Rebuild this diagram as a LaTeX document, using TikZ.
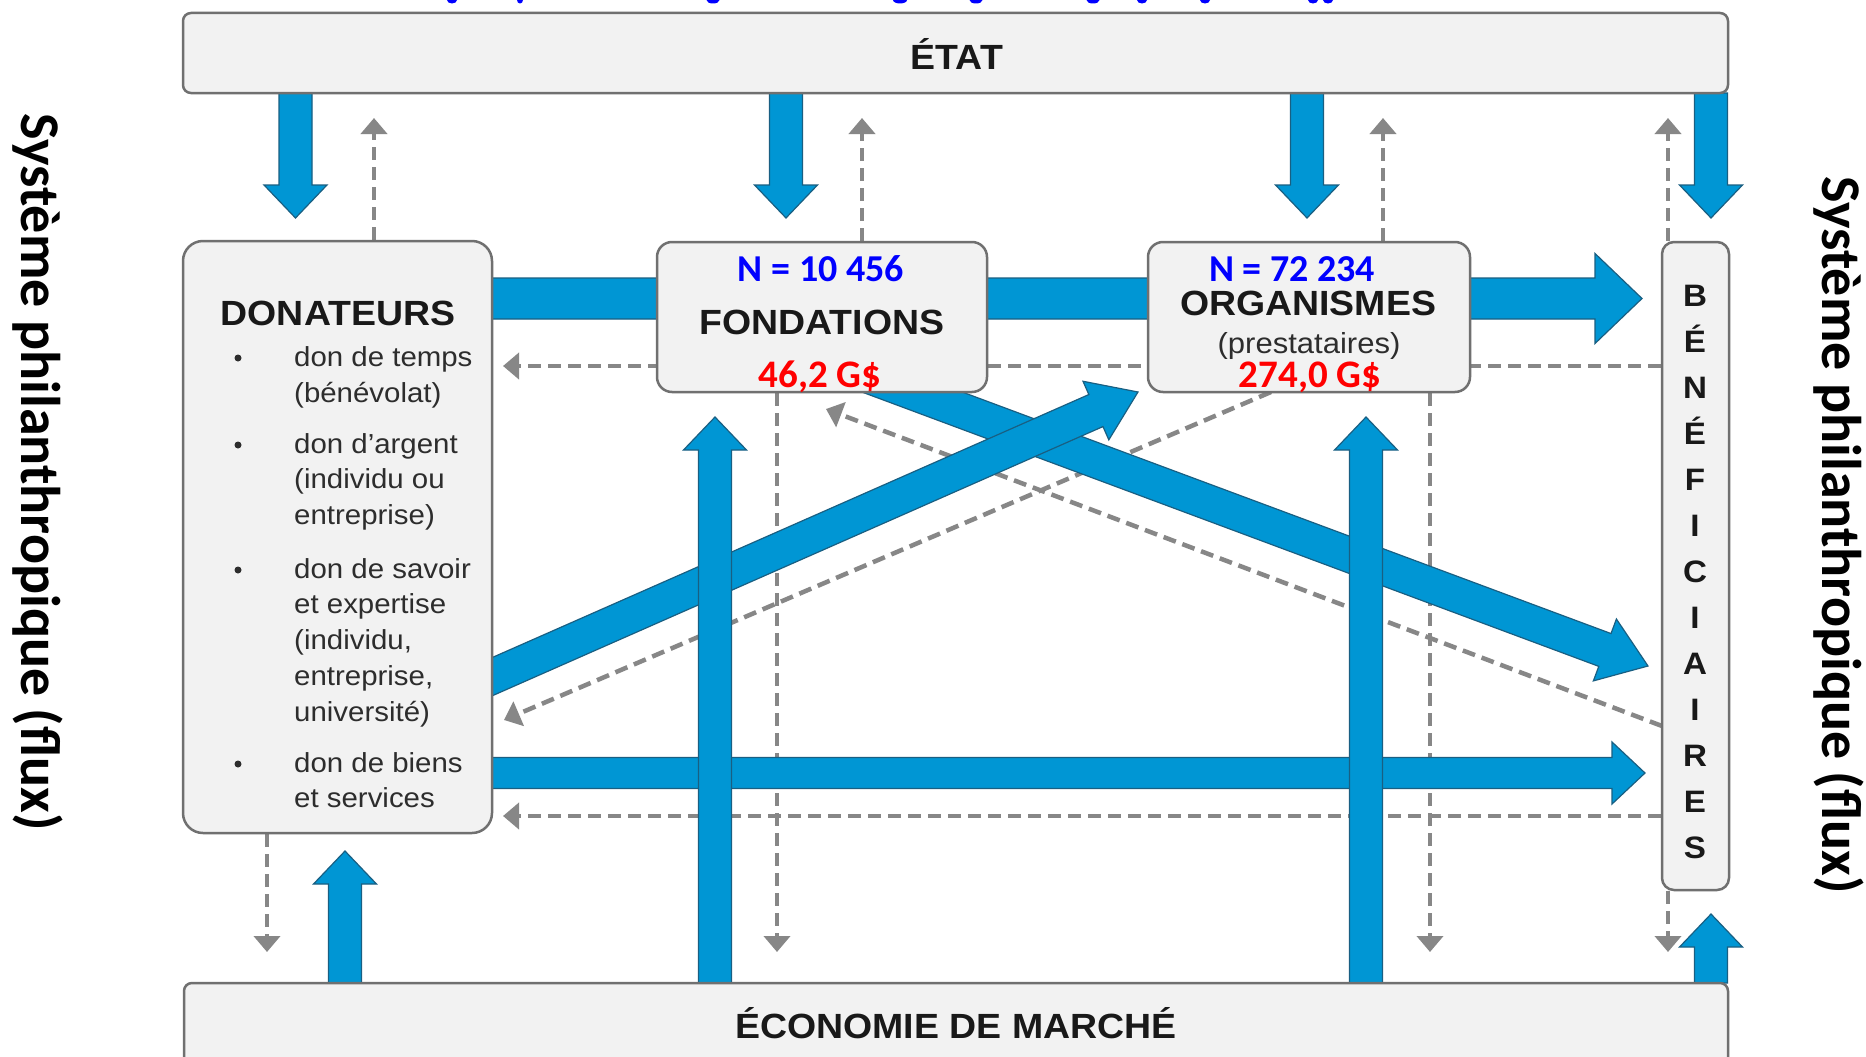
\documentclass[tikz,border=0pt]{standalone}
\usepackage{fontspec}
\setmainfont{Liberation Sans}
\newfontfamily\diagfont{Liberation Sans}[FakeStretch=1.07]
\newfontfamily\calfont{Carlito}
\usetikzlibrary{calc,arrows.meta}
\definecolor{flowblue}{RGB}{0,150,212}
\definecolor{flowedge}{RGB}{25,95,130}
\definecolor{boxfill}{RGB}{242,242,242}
\definecolor{boxedge}{RGB}{112,112,112}
\definecolor{dashgray}{RGB}{135,135,135}
\definecolor{itemgray}{RGB}{45,45,45}
\pgfdeclarelayer{dashlayer}
\pgfdeclarelayer{flowlayer}
\pgfdeclarelayer{flowtop}
\pgfsetlayers{dashlayer,flowlayer,flowtop,main}
\newcommand\blockarrow[5]{%
  \coordinate (ba-h) at ($(#2)!#5!(#1)$);
  \filldraw[flowarrow] ($(#1)!#3!90:(#2)$) -- ($(ba-h)!#3!90:(#2)$) -- ($(ba-h)!#4!90:(#2)$) -- (#2)
    -- ($(ba-h)!#4!-90:(#2)$) -- ($(ba-h)!#3!-90:(#2)$) -- ($(#1)!#3!-90:(#2)$) -- cycle;}
\tikzset{
  box/.style={draw=boxedge, fill=boxfill, line width=2.5pt, inner sep=0pt},
  title/.style={font=\diagfont\bfseries\fontsize{35}{40}\selectfont, anchor=base, inner sep=0pt, text=black!90},
  item/.style={font=\diagfont\fontsize{27.5}{34}\selectfont, anchor=base west, inner sep=0pt, text=itemgray},
  subt/.style={font=\diagfont\fontsize{29}{34}\selectfont, anchor=base, inner sep=0pt, text=itemgray},
  bul/.style={circle, fill=itemgray, inner sep=0pt, minimum size=7pt},
  numblue/.style={font=\calfont\bfseries\fontsize{38}{40}\selectfont, anchor=base, inner sep=0pt, text=blue},
  numred/.style={font=\calfont\bfseries\fontsize{39}{40}\selectfont, anchor=base, inner sep=0pt, text=red},
  benl/.style={font=\diagfont\bfseries\fontsize{31}{34}\selectfont, anchor=base, inner sep=0pt, text=black!90},
  side/.style={font=\calfont\bfseries\fontsize{56}{60}\selectfont, inner sep=0pt, rotate=-90},
  dasharrow/.style={draw=dashgray, line width=4.5pt, dash pattern=on 13pt off 7pt, -{Triangle[length=16pt,width=26pt]}},
  flowarrow/.style={fill=flowblue, draw=flowedge, line width=1.2pt, line join=miter},
  cutoff/.style={fill=blue},
}
\begin{document}
\begin{tikzpicture}[x=1pt,y=-1pt]
\useasboundingbox (0,0) rectangle (1866,1057);
\clip (0,0) rectangle (1866,1057);

% boxes
\node[box, rounded corners=8pt, minimum width=1545pt, minimum height=80pt] (etat) at (955.5,53) {};
\node[box, rounded corners=8pt, minimum width=1544pt, minimum height=100pt] (econ) at (956,1033) {};
\node[box, rounded corners=20pt, minimum width=309pt, minimum height=592pt] (don) at (337.5,537) {};
\node[box, rounded corners=15pt, minimum width=330pt, minimum height=150pt] (fon) at (822,317) {};
\node[box, rounded corners=15pt, minimum width=322pt, minimum height=150pt] (org) at (1309,317) {};
\node[box, rounded corners=12pt, minimum width=67pt, minimum height=648pt] (ben) at (1695.5,566) {};

% texts
\node[title] (etatT) at (957,70) {ÉTAT};
\node[title] (econT) at (956,1038) {ÉCONOMIE DE MARCHÉ};
\node[title] (donT) at (338,325) {DONATEURS};
\node[numblue] (fonN) at (821,281) {N = 10 456};
\node[title] (fonT) at (822,334) {FONDATIONS};
\node[numred] (fonV) at (820,387) {46,2 G\$};
\node[numblue] (orgN) at (1292,281) {N = 72 234};
\node[title] (orgT) at (1308,315) {ORGANISMES};
\node[subt] (orgS) at (1309,353) {(prestataires)};
\node[numred] (orgV) at (1310,387) {274,0 G\$};

\node[bul] (b1) at (238,358) {};
\node[item] (i1a) at (294,366) {don de temps};
\node[item] (i1b) at (294,402) {(bénévolat)};
\node[bul] (b2) at (238,445) {};
\node[item] (i2a) at (294,453) {don d’argent};
\node[item] (i2b) at (294,488) {(individu ou};
\node[item] (i2c) at (294,524) {entreprise)};
\node[bul] (b3) at (238,570) {};
\node[item] (i3a) at (294,578) {don de savoir};
\node[item] (i3b) at (294,613) {et expertise};
\node[item] (i3c) at (294,649) {(individu,};
\node[item] (i3d) at (294,685) {entreprise,};
\node[item] (i3e) at (294,721) {université)};
\node[bul] (b4) at (238,764) {};
\node[item] (i4a) at (294,772) {don de biens};
\node[item] (i4b) at (294,807) {et services};

\foreach \l [count=\i from 0] in {B,É,N,É,F,I,C,I,A,I,R,E,S}
  \node[benl] (ben\i) at (1695,{306+46*\i}) {\l};

\node[side] (sysL) at (38,472) {Système philanthropique (flux)};
\node[side] (sysR) at (1839,535) {Système philanthropique (flux)};

% cut-off blue line at the top edge
\foreach \cx/\cw in {452/10,520/6,713/13,900/14,976/13,1093/13,1142/10,1205/10,1313/10,1328/10}
  \fill[cutoff] (\cx,0) ellipse [x radius=\cw/2, y radius=3.5];

% dashed return flows
\begin{pgfonlayer}{dashlayer}
\fill[white] (0,0) rectangle (1866,1057);
\coordinate (dU1) at (374,118);
\coordinate (dU2) at (862,118);
\coordinate (dU3) at (1383,118);
\coordinate (dU4) at (1668,118);
\coordinate (dD1) at (267,952);
\coordinate (dD2) at (777,952);
\coordinate (dD3) at (1430,952);
\coordinate (dD4) at (1668,952);
\coordinate (dH1) at (503,366);
\coordinate (dH2) at (503,816);
\coordinate (dK1s) at (1271,392);
\coordinate (dK1t) at (504,720);
\coordinate (dK2s) at (1662,726);
\coordinate (dK2t) at (826,409);
\draw[dasharrow] (dU1 |- don.north) -- (dU1);
\draw[dasharrow] (dU2 |- fon.north) -- (dU2);
\draw[dasharrow] (dU3 |- org.north) -- (dU3);
\draw[dasharrow] (dU4 |- ben.north) -- (dU4);
\draw[dasharrow] (dD1 |- don.south) -- (dD1);
\draw[dasharrow] (dD2 |- fon.south) -- (dD2);
\draw[dasharrow] (dD3 |- org.south) -- (dD3);
\draw[dasharrow] (dD4 |- ben.south) -- (dD4);
\draw[dasharrow] (dH1 -| ben.west) -- (dH1);
\draw[dasharrow] (dH2 -| ben.west) -- (dH2);
\draw[dasharrow] (dK1s) -- (dK1t);
\draw[dasharrow] (dK2s) -- (dK2t);
\end{pgfonlayer}

% blue flows (horizontal and diagonal)
\begin{pgfonlayer}{flowlayer}
\coordinate (fFBs) at (818,357);
\coordinate (fFBt) at (1648,666);
\blockarrow{fFBs}{fFBt}{17.5pt}{33pt}{46pt}
\coordinate (fTs) at (470,298.5);
\coordinate (fTt) at (1642,298.5);
\blockarrow{fTs}{fTt}{20.5pt}{45pt}{47pt}
\coordinate (fLs) at (480,773);
\coordinate (fLt) at (1645,773);
\blockarrow{fLs}{fLt}{15.5pt}{31pt}{33pt}
\coordinate (fDOs) at (437,701);
\coordinate (fDOt) at (1138,392);
\blockarrow{fDOs}{fDOt}{17.5pt}{32pt}{46pt}
\end{pgfonlayer}

% blue flows (vertical)
\begin{pgfonlayer}{flowtop}
\coordinate (v1s) at (295.5,93);  \coordinate (v1t) at (295.5,218);
\coordinate (v2s) at (786,93);    \coordinate (v2t) at (786,218);
\coordinate (v3s) at (1307,93);   \coordinate (v3t) at (1307,218);
\coordinate (v4s) at (1711,93);   \coordinate (v4t) at (1711,218);
\coordinate (u1s) at (345,983);   \coordinate (u1t) at (345,851);
\coordinate (u2s) at (715,983);   \coordinate (u2t) at (715,417);
\coordinate (u3s) at (1366,983);  \coordinate (u3t) at (1366,417);
\coordinate (u4s) at (1711,983);  \coordinate (u4t) at (1711,914);
\blockarrow{v1s}{v1t}{16.5pt}{31.5pt}{33pt}
\blockarrow{v2s}{v2t}{16.5pt}{31.5pt}{33pt}
\blockarrow{v3s}{v3t}{16.5pt}{31.5pt}{33pt}
\blockarrow{v4s}{v4t}{16.5pt}{31.5pt}{33pt}
\blockarrow{u1s}{u1t}{16.5pt}{31.5pt}{33pt}
\blockarrow{u2s}{u2t}{16.5pt}{31.5pt}{33pt}
\blockarrow{u3s}{u3t}{16.5pt}{31.5pt}{33pt}
\blockarrow{u4s}{u4t}{16.5pt}{31.5pt}{33pt}
\end{pgfonlayer}
\end{tikzpicture}
\end{document}
